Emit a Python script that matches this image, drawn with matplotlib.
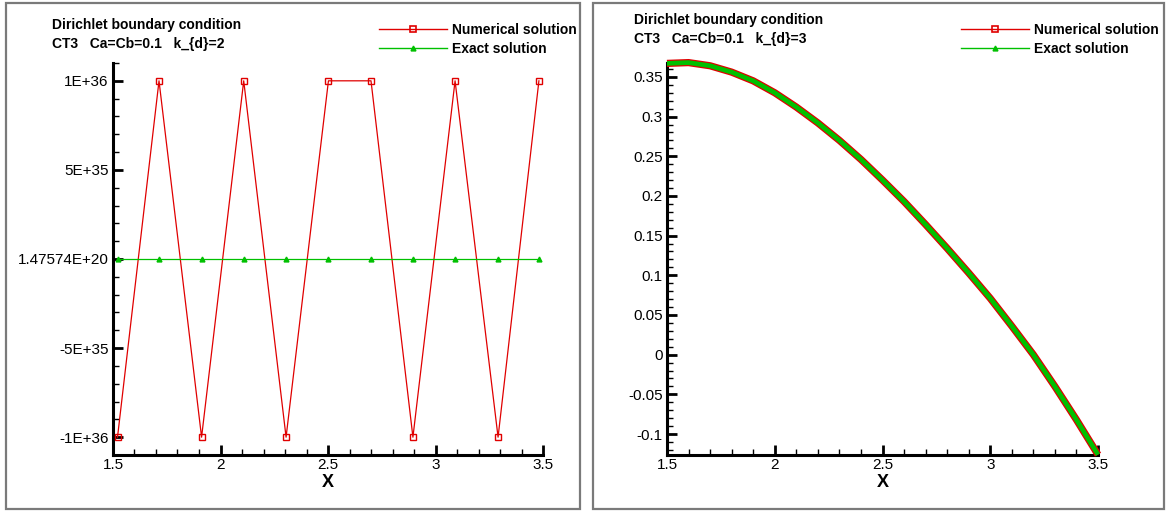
import matplotlib
matplotlib.use('Agg')
import matplotlib.pyplot as plt
from matplotlib.lines import Line2D
from matplotlib.patches import Rectangle
from matplotlib.ticker import MultipleLocator, FixedLocator, FixedFormatter

plt.rcParams['font.family'] = ['Liberation Sans', 'DejaVu Sans']

W, H = 1168, 513

# ---------------- data ----------------
title_line1 = "Dirichlet boundary condition"
left_title2 = "CT3   Ca=Cb=0.1   k_{d}=2"
right_title2 = "CT3   Ca=Cb=0.1   k_{d}=3"
legend_labels = ["Numerical solution", "Exact solution"]
x_label = "X"

left_x = [1.521, 1.714, 1.912, 2.108, 2.305, 2.502, 2.700, 2.895, 3.091, 3.291, 3.481]
left_numerical = [-1e36, 1e36, -1e36, 1e36, -1e36, 1e36, 1e36, -1e36, 1e36, -1e36, 1e36]
left_exact = [0, 0, 0, 0, 0, 0, 0, 0, 0, 0, 0]
left_yticks = [-1e36, -5e35, 0, 5e35, 1e36]
left_yticklabels = ["-1E+36", "-5E+35", "1.47574E+20", "5E+35", "1E+36"]

right_x = [1.5, 1.6, 1.7, 1.8, 1.9, 2.0, 2.1, 2.2, 2.3, 2.4, 2.5,
           2.6, 2.7, 2.8, 2.9, 3.0, 3.1, 3.2, 3.3, 3.4, 3.5]
right_numerical = [0.367, 0.368, 0.364, 0.356, 0.345, 0.330, 0.312, 0.292, 0.270, 0.246, 0.220,
                   0.193, 0.164, 0.134, 0.103, 0.071, 0.036, 0.000, -0.040, -0.082, -0.126]
right_exact = [0.367, 0.368, 0.364, 0.356, 0.345, 0.330, 0.312, 0.292, 0.270, 0.246, 0.220,
               0.193, 0.164, 0.134, 0.103, 0.071, 0.036, 0.000, -0.040, -0.082, -0.126]
right_yticks = [-0.1, -0.05, 0, 0.05, 0.1, 0.15, 0.2, 0.25, 0.3, 0.35]
right_yticklabels = ["-0.1", "-0.05", "0", "0.05", "0.1", "0.15", "0.2", "0.25", "0.3", "0.35"]

xticks = [1.5, 2.0, 2.5, 3.0, 3.5]
xticklabels = ["1.5", "2", "2.5", "3", "3.5"]

RED = '#e00000'
GREEN = '#00c000'

fig = plt.figure(figsize=(W / 100, H / 100), dpi=100)


def fx(px):
    return px / W


def fy(py):
    return 1 - py / H


# panel frames
for (x0, y0, x1, y1) in [(6, 3, 580, 509), (593, 3, 1164, 509)]:
    fig.add_artist(Rectangle((fx(x0), fy(y1)), (x1 - x0) / W, (y1 - y0) / H,
                             transform=fig.transFigure, fill=False,
                             edgecolor='#7a7a7a', linewidth=1.6))


def style_axes(ax):
    for s in ['top', 'right']:
        ax.spines[s].set_visible(False)
    for s in ['left', 'bottom']:
        ax.spines[s].set_linewidth(2.2)
    ax.tick_params(which='major', direction='in', length=7.5, width=2.0,
                   labelsize=11, pad=3)
    ax.tick_params(which='minor', direction='in', length=4.3, width=1.0)
    ax.tick_params(axis='x', which='major', pad=2.5)
    ax.xaxis.set_major_locator(FixedLocator(xticks))
    ax.xaxis.set_major_formatter(FixedFormatter(xticklabels))
    ax.xaxis.set_minor_locator(MultipleLocator(0.1))
    ax.set_xlim(1.5, 3.5)
    ax.set_xlabel(x_label, fontsize=13, fontweight='bold', labelpad=1)


def add_legend(ax, x_px, y_px):
    handles = [Line2D([], [], color=RED, lw=1.0, marker='s', ms=4.5,
                      mfc='none', mec=RED, mew=1.2),
               Line2D([], [], color=GREEN, lw=1.0, marker='^', ms=3.5,
                      mfc=GREEN, mec=GREEN)]
    ax.legend(handles, legend_labels, loc='upper left',
              bbox_to_anchor=(fx(x_px), fy(y_px)), bbox_transform=fig.transFigure,
              frameon=False, prop={'weight': 'bold', 'size': 10},
              handlelength=4.9, handletextpad=0.36, labelspacing=0.36,
              borderpad=0, borderaxespad=0, markerscale=1.0)


# ---------------- left panel ----------------
axL = fig.add_axes([fx(113), fy(455), 430 / W, 392 / H])
style_axes(axL)
axL.plot(left_x, left_numerical, color=RED, lw=0.9, marker='s', ms=4.5,
         mfc='none', mec=RED, mew=1.0, clip_on=False, zorder=3)
axL.plot(left_x, left_exact, color=GREEN, lw=0.9, marker='^', ms=3.5,
         mfc=GREEN, mec=GREEN, clip_on=False, zorder=4)
axL.set_ylim(-1.1e36, 1.1e36)
axL.yaxis.set_major_locator(FixedLocator(left_yticks))
axL.yaxis.set_major_formatter(FixedFormatter(left_yticklabels))
axL.yaxis.set_minor_locator(MultipleLocator(1e35))
add_legend(axL, 379, 23)
fig.text(fx(52), fy(25), title_line1, fontsize=10, fontweight='bold', va='center', ha='left')
fig.text(fx(52), fy(44), left_title2, fontsize=10, fontweight='bold', va='center', ha='left')

# ---------------- right panel ----------------
axR = fig.add_axes([fx(667), fy(455), 431 / W, 392 / H])
style_axes(axR)
axR.plot(right_x, right_numerical, color=RED, lw=5.2, solid_capstyle='butt',
         solid_joinstyle='round', clip_on=False, zorder=3)
axR.plot(right_x, right_exact, color=GREEN, lw=3.4, solid_capstyle='butt',
         solid_joinstyle='round', clip_on=False, zorder=4)
axR.set_ylim(-0.1264, 0.3675)
axR.yaxis.set_major_locator(FixedLocator(right_yticks))
axR.yaxis.set_major_formatter(FixedFormatter(right_yticklabels))
axR.yaxis.set_minor_locator(MultipleLocator(0.01))
add_legend(axR, 961, 23)
fig.text(fx(634), fy(20), title_line1, fontsize=10, fontweight='bold', va='center', ha='left')
fig.text(fx(634), fy(39), right_title2, fontsize=10, fontweight='bold', va='center', ha='left')

fig.savefig('out.png', dpi=100)
